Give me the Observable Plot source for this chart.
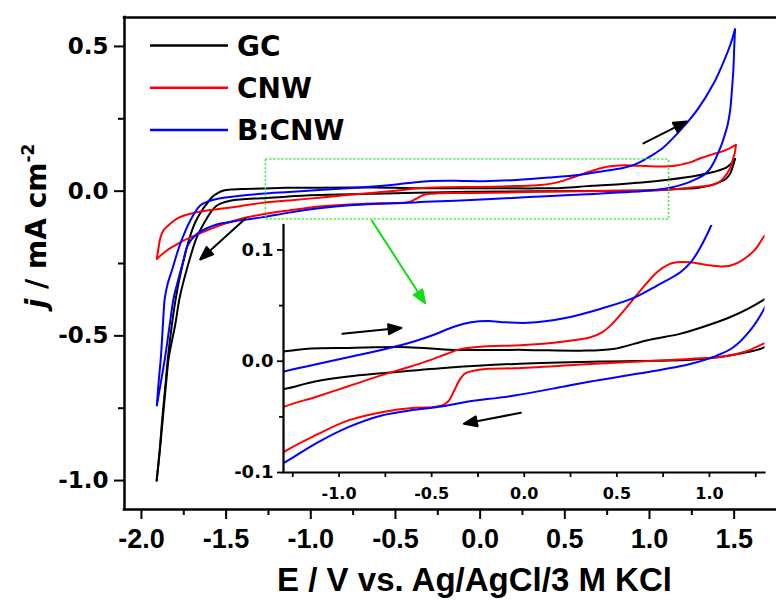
<!DOCTYPE html>
<html><head><meta charset="utf-8">
<script src="https://cdn.jsdelivr.net/npm/d3@7"></script>
<script src="https://cdn.jsdelivr.net/npm/@observablehq/plot@0.6"></script>
<style>
html,body{margin:0;padding:0;background:#fff;}
#wrap{position:relative;width:776px;height:600px;overflow:hidden;background:#fff;}
#wrap svg{position:absolute;left:0;top:0;max-width:none;}
</style></head><body><div id="wrap"></div>
<script>
// ---------------- data ----------------
const seriesNames = ["GC", "CNW", "B:CNW"];
const seriesColors = ["#000000", "#ff0000", "#0000ff"];

// [E (V), j (mA cm^-2)]
const gcForward = [[-1.91,-1.0],[-1.893,-0.9],[-1.879,-0.8],[-1.86,-0.68],[-1.843,-0.573],[-1.82,-0.46],[-1.797,-0.37],[-1.765,-0.274],[-1.715,-0.16],[-1.68,-0.105],[-1.643,-0.067],[-1.61,-0.04],[-1.584,-0.021],[-1.55,-0.007],[-1.515,0.002],[-1.46,0.006],[-1.40,0.0078],[-1.29,0.009],[-1.15,0.0115],[-0.95,0.012],[-0.63,0.0126],[-0.38,0.0102],[0.0,0.0102],[0.3,0.0095],[0.48,0.011],[0.66,0.0186],[0.84,0.0246],[0.93,0.029],[1.11,0.0395],[1.29,0.055],[1.377,0.066],[1.45,0.08],[1.48,0.094],[1.505,0.111]];
const gcReverse = [[1.505,0.111],[1.49,0.082],[1.476,0.06],[1.45,0.042],[1.417,0.032],[1.36,0.02],[1.29,0.012],[1.2,0.008],[1.075,0.0042],[0.9,0.0013],[0.41,-0.0003],[-0.054,-0.0024],[-0.45,-0.0063],[-0.77,-0.0108],[-0.95,-0.0137],[-1.13,-0.0182],[-1.29,-0.0248],[-1.38,-0.027],[-1.476,-0.033],[-1.53,-0.042],[-1.56,-0.052],[-1.584,-0.067],[-1.63,-0.11],[-1.673,-0.159],[-1.734,-0.274],[-1.775,-0.37],[-1.80,-0.46],[-1.838,-0.573],[-1.857,-0.68],[-1.876,-0.8],[-1.892,-0.9],[-1.91,-1.0]];

const cnwForward = [[-1.909,-0.234],[-1.9,-0.2],[-1.889,-0.163],[-1.87,-0.135],[-1.83,-0.113],[-1.79,-0.095],[-1.752,-0.085],[-1.68,-0.074],[-1.614,-0.067],[-1.52,-0.06],[-1.417,-0.052],[-1.29,-0.0405],[-1.13,-0.0323],[-0.95,-0.0225],[-0.77,-0.0125],[-0.627,-0.0054],[-0.5,0.0015],[-0.42,0.0065],[-0.34,0.0111],[-0.2,0.0135],[-0.02,0.0143],[0.215,0.0177],[0.358,0.0215],[0.42,0.026],[0.466,0.032],[0.538,0.0455],[0.627,0.0635],[0.717,0.08],[0.78,0.087],[0.825,0.0889],[0.896,0.0889],[0.986,0.0865],[1.06,0.0852],[1.111,0.0859],[1.16,0.089],[1.2,0.0934],[1.25,0.101],[1.29,0.111],[1.377,0.128],[1.45,0.142],[1.51,0.16]];
const cnwReverse = [[1.51,0.16],[1.505,0.135],[1.496,0.117],[1.48,0.085],[1.456,0.059],[1.42,0.035],[1.377,0.022],[1.29,0.0156],[1.2,0.009],[1.075,0.0042],[0.896,0.0021],[0.6,-0.0005],[0.358,-0.0024],[0.215,-0.0039],[-0.054,-0.0063],[-0.197,-0.0068],[-0.28,-0.0088],[-0.32,-0.011],[-0.35,-0.017],[-0.38,-0.027],[-0.41,-0.036],[-0.44,-0.0395],[-0.5,-0.0413],[-0.591,-0.0418],[-0.77,-0.0458],[-0.95,-0.0532],[-1.129,-0.0667],[-1.29,-0.0808],[-1.417,-0.096],[-1.52,-0.115],[-1.614,-0.136],[-1.69,-0.155],[-1.752,-0.171],[-1.80,-0.187],[-1.85,-0.205],[-1.909,-0.234]];

const bcnwForward = [[-1.909,-0.74],[-1.897,-0.65],[-1.885,-0.573],[-1.873,-0.46],[-1.862,-0.37],[-1.845,-0.32],[-1.82,-0.274],[-1.771,-0.182],[-1.712,-0.102],[-1.653,-0.05],[-1.6,-0.034],[-1.555,-0.027],[-1.417,-0.016],[-1.29,-0.009],[-1.129,-0.003],[-0.95,0.0036],[-0.734,0.0117],[-0.591,0.018],[-0.484,0.024],[-0.38,0.031],[-0.287,0.035],[-0.197,0.0362],[-0.1,0.035],[0.018,0.0345],[0.215,0.0386],[0.41,0.047],[0.591,0.0569],[0.717,0.068],[0.843,0.08],[0.9,0.089],[0.95,0.102],[1.004,0.12],[1.082,0.151],[1.18,0.209],[1.279,0.278],[1.377,0.37],[1.44,0.45],[1.48,0.51],[1.505,0.559]];
const bcnwReverse = [[1.505,0.559],[1.5,0.49],[1.496,0.427],[1.487,0.35],[1.476,0.278],[1.462,0.23],[1.446,0.197],[1.427,0.163],[1.407,0.134],[1.385,0.105],[1.358,0.078],[1.325,0.058],[1.29,0.0455],[1.219,0.0276],[1.129,0.0126],[1.04,0.0051],[0.896,-0.0024],[0.627,-0.0108],[0.358,-0.0182],[0.215,-0.0227],[-0.054,-0.0308],[-0.323,-0.0368],[-0.448,-0.0407],[-0.591,-0.0436],[-0.77,-0.0487],[-0.95,-0.0592],[-1.129,-0.0742],[-1.29,-0.0906],[-1.417,-0.101],[-1.555,-0.115],[-1.62,-0.13],[-1.673,-0.148],[-1.705,-0.168],[-1.732,-0.194],[-1.752,-0.24],[-1.78,-0.30],[-1.81,-0.37],[-1.835,-0.47],[-1.86,-0.573],[-1.885,-0.66],[-1.909,-0.74]];

// tick values
const xMajor = [-2, -1.5, -1, -0.5, 0, 0.5, 1, 1.5];
const xMinor = [-1.75, -1.25, -0.75, -0.25, 0.25, 0.75, 1.25];
const yMajor = [-1, -0.5, 0, 0.5];
const yMinor = [-0.75, -0.25, 0.25];
const insetXMajor = [-1, -0.5, 0, 0.5, 1];
const insetXMinor = [-1.25, -0.75, -0.25, 0.25, 0.75, 1.25];
const insetYMajor = [-0.1, 0, 0.1];
const insetYMinor = [-0.05, 0.05];

// annotations (data units): [x0, y0, x1, y1]
const zoomBox = [{x1: -1.265, x2: 1.116, y1: -0.098, y2: 0.109}];
const zoomArrow = [-0.639, -0.102, -0.325, -0.387];
const mainArrows = [[-1.387, -0.095, -1.653, -0.236], [0.964, 0.165, 1.22, 0.241]];
const insetArrows = [[-0.982, 0.0246, -0.663, 0.030], [-0.018, -0.0463, -0.326, -0.0562]];

const xTitle = "E / V vs. Ag/AgCl/3 M KCl";

// ---------------- table ----------------
const branches = [["GC", "f", gcForward], ["GC", "r", gcReverse], ["CNW", "f", cnwForward], ["CNW", "r", cnwReverse], ["B:CNW", "f", bcnwForward], ["B:CNW", "r", bcnwReverse]];
const data = branches.flatMap(([s, b, pts]) => pts.map(([E, j]) => ({series: s, branch: s + b, E, j})));

const W = 776, H = 600;
const fmt = d => d.toFixed(1);
const tickFont = "DejaVu Sans";
const titleFont = "Liberation Sans";

const headShape = {
  draw(ctx, l) {
    const hl = 13, hw = 5;
    ctx.moveTo(0, 0); ctx.lineTo(0, -(l - hl + 1));
    ctx.moveTo(0, -l); ctx.lineTo(-hw, -l + hl); ctx.lineTo(hw, -l + hl); ctx.closePath();
  }
};
function arrowMark([x0, y0, x1, y1], sx, sy, color) {
  const dx = sx.apply(x1) - sx.apply(x0), dy = sy.apply(y1) - sy.apply(y0);
  return Plot.vector([{x: x0, y: y0}], {
    x: "x", y: "y", anchor: "start",
    length: Math.hypot(dx, dy), rotate: Math.atan2(dx, -dy) * 180 / Math.PI,
    shape: headShape, stroke: color, fill: color, strokeWidth: 2
  });
}

// ---------------- main plot ----------------
const M = {left: 124, right: 776, top: 17, bottom: 509};
const xDom = [-2.1, 1.75], yDom = [-1.1, 0.6];
const sx = Plot.scale({x: {domain: xDom, range: [M.left, M.right]}});
const sy = Plot.scale({y: {domain: yDom, range: [M.bottom, M.top]}});

const main = Plot.plot({
  width: W, height: H,
  marginLeft: M.left, marginRight: W - M.right, marginTop: M.top, marginBottom: H - M.bottom,
  x: {domain: xDom}, y: {domain: yDom},
  color: {domain: seriesNames, range: seriesColors},
  style: {background: "transparent"},
  marks: [
    Plot.line(data, {x: "E", y: "j", z: "branch", stroke: "series", strokeWidth: 2, curve: "catmull-rom"}),
    Plot.rect(zoomBox, {x1: "x1", x2: "x2", y1: "y1", y2: "y2", fill: "none", stroke: "#33ee33", strokeWidth: 1.5, strokeDasharray: "2,2"}),
    arrowMark(zoomArrow, sx, sy, "#11dd11"),
    ...mainArrows.map(a => arrowMark(a, sx, sy, "#000")),
    Plot.ruleX([xDom[0]], {strokeWidth: 2.5, strokeLinecap: "square"}),
    Plot.ruleY([yDom[0], yDom[1]], {strokeWidth: 2.5, strokeLinecap: "square"}),
    Plot.axisX(xMajor, {anchor: "bottom", tickSize: 10, tickPadding: 9, strokeWidth: 2, tickFormat: fmt, fontSize: 27, fontFamily: titleFont, fontWeight: "bold", label: null}),
    Plot.axisX(xMinor, {anchor: "bottom", tickSize: 6, strokeWidth: 2, fill: "none", label: null}),
    Plot.axisY(yMajor, {anchor: "left", tickSize: 10, tickPadding: 6, strokeWidth: 2, tickFormat: fmt, fontSize: 23, fontFamily: tickFont, fontWeight: "bold", label: null}),
    Plot.axisY(yMinor, {anchor: "left", tickSize: 6, strokeWidth: 2, fill: "none", label: null}),
    Plot.text([xTitle], {frameAnchor: "bottom", dx: 24, dy: 71, text: d => d, lineAnchor: "middle", fontSize: 33, fontFamily: titleFont, fontWeight: "bold"})
  ]
});

// y title with italic j and superscript
const msvg = d3.select(main);
const yt = msvg.append("text")
  .attr("transform", "translate(46,226) rotate(-90)")
  .attr("text-anchor", "middle").attr("font-family", tickFont).attr("font-weight", "bold").attr("font-size", 28).attr("fill", "#000");
yt.append("tspan").attr("font-style", "italic").text("j");
yt.append("tspan").text(" / mA cm");
yt.append("tspan").attr("dy", -12).attr("font-size", 17).text("-2");

// legend
const lg = msvg.append("g").attr("text-anchor", "start");
seriesNames.forEach((name, i) => {
  const y = 45.5 + i * 42.3;
  lg.append("line").attr("x1", 150).attr("x2", 228).attr("y1", y).attr("y2", y).attr("stroke", seriesColors[i]).attr("stroke-width", 2.5);
  lg.append("text").attr("x", 237).attr("y", y + 10).attr("text-anchor", "start").attr("font-family", tickFont).attr("font-weight", "bold").attr("font-size", 28).attr("fill", "#000").text(name);
});

// ---------------- inset plot ----------------
const I = {left: 283, right: 764.5, top: 225, bottom: 472};
const ixDom = [-1.3, 1.3], iyDom = [-0.1, 0.122];
const isx = Plot.scale({x: {domain: ixDom, range: [I.left, I.right]}});
const isy = Plot.scale({y: {domain: iyDom, range: [I.bottom, I.top]}});

const inset = Plot.plot({
  width: W, height: H,
  marginLeft: I.left, marginRight: W - I.right, marginTop: I.top, marginBottom: H - I.bottom,
  x: {domain: ixDom}, y: {domain: iyDom},
  color: {domain: seriesNames, range: seriesColors},
  style: {background: "transparent"},
  marks: [
    Plot.line(data, {x: "E", y: "j", z: "branch", stroke: "series", strokeWidth: 2, curve: "catmull-rom", clip: true}),
    ...insetArrows.map(a => arrowMark(a, isx, isy, "#000")),
    Plot.ruleX([ixDom[0]], {strokeWidth: 2.2, strokeLinecap: "square"}),
    Plot.ruleY([iyDom[0]], {strokeWidth: 2.2, strokeLinecap: "square"}),
    Plot.axisX(insetXMajor, {anchor: "bottom", tickSize: 5, tickPadding: 10, strokeWidth: 1.8, tickFormat: fmt, fontSize: 16, fontFamily: tickFont, fontWeight: "bold", label: null}),
    Plot.axisX(insetXMinor, {anchor: "bottom", tickSize: 5, strokeWidth: 1.8, fill: "none", label: null}),
    Plot.axisY(insetYMajor, {anchor: "left", tickSize: 6, tickPadding: 4, strokeWidth: 1.8, tickFormat: fmt, fontSize: 18, fontFamily: tickFont, fontWeight: "bold", label: null}),
    Plot.axisY(insetYMinor, {anchor: "left", tickSize: 4, strokeWidth: 1.8, fill: "none", label: null})
  ]
});

const wrap = document.getElementById("wrap");
wrap.appendChild(main);
wrap.appendChild(inset);
</script>
</body></html>
